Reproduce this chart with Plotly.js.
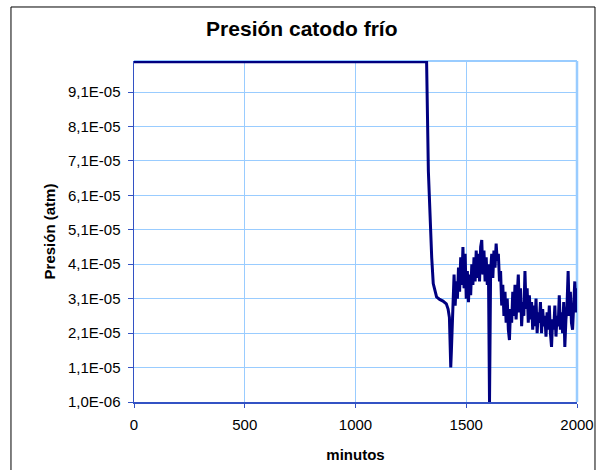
<!DOCTYPE html>
<html>
<head>
<meta charset="utf-8">
<script src="https://cdn.plot.ly/plotly-3.0.1.min.js"></script>
<style>
html,body{margin:0;padding:0;background:#fff;}
#chart{width:600px;height:470px;}
</style>
</head>
<body>
<div id="chart"></div>
<script>
// Time in minutes
var minutos = [0, 300, 600, 900, 1200, 1300, 1321, 1329, 1336, 1344, 1351, 1359, 1366, 1380, 1395, 1410, 1418, 1424, 1428, 1430, 1433, 1437, 1441,
  1445,1450,1455,1460,1465,1470,1475,1480,1485,1490,1495,1500,1505,1510,1515,1520,1525,1530,1535,1540,1545,1550,1555,1560,1565,1570,1575,1580,1585,1590,1595,1600,
  1605,1610,1615,1620,1625,1630,1635,1640,1645,1650,1655,1660,1665,1670,1675,1680,1685,1690,1695,1700,1705,1710,1715,1720,1725,1730,1735,1740,1745,1750,1755,1760,
  1765,1770,1775,1780,1785,1790,1795,1800,1805,1810,1815,1820,1825,1830,1835,1840,1845,1850,1855,1860,1865,1870,1875,1880,1885,1890,1895,1900,1905,1910,1915,1920,
  1925,1930,1935,1940,1945,1950,1955,1960,1965,1970,1975,1980,1985,1990,1995,2000];
// Pressure in units of 1E-05 atm
var presion_e5 = [9.98, 9.98, 9.98, 9.98, 9.98, 9.98, 9.98, 6.8, 5.4, 4.3, 3.54, 3.3, 3.15, 3.08, 3.03, 2.95, 2.8, 2.55, 1.8, 1.1, 1.6, 2.3, 3.5,
  3.8,2.9,3.6,3.1,4.0,3.3,4.3,3.5,4.6,3.4,4.4,3.1,3.9,3.0,3.8,3.2,4.1,3.5,4.3,3.6,4.5,3.7,4.4,3.6,4.6,4.8,3.8,4.5,3.6,4.3,3.5,4.1,
  0.1,3.9,4.4,3.7,4.5,4.0,4.7,4.2,4.4,3.6,3.9,2.9,3.5,2.6,3.3,2.4,3.1,2.2,1.9,2.8,2.4,3.3,2.6,3.5,2.5,3.2,3.8,2.7,3.4,2.3,3.0,2.6,
  3.9,2.8,3.4,2.4,3.2,2.5,3.0,2.2,2.9,2.3,3.1,2.1,2.7,2.4,3.0,2.1,2.8,2.3,2.6,2.0,2.7,2.2,2.9,2.1,1.7,2.5,2.2,2.9,2.0,2.6,2.3,3.2,
  2.2,2.7,2.1,3.0,1.7,2.5,2.9,3.9,2.6,3.3,2.4,2.2,3.1,3.6,2.7,3.4];

var yTickVals = [0.1, 1.1, 2.1, 3.1, 4.1, 5.1, 6.1, 7.1, 8.1, 9.1];
var yTickText = ["1,0E-06", "1,1E-05", "2,1E-05", "3,1E-05", "4,1E-05", "5,1E-05", "6,1E-05", "7,1E-05", "8,1E-05", "9,1E-05"];
var xTickVals = [0, 500, 1000, 1500, 2000];

var gridColor = "#99ccff";
var axisColor = "#3352c4";

var trace = {
  x: minutos,
  y: presion_e5,
  type: "scatter",
  mode: "lines",
  line: {color: "#000080", width: 3},
  hoverinfo: "skip"
};

var layout = {
  width: 600,
  height: 470,
  paper_bgcolor: "#ffffff",
  plot_bgcolor: "#ffffff",
  margin: {l: 134, r: 23, t: 61, b: 68},
  showlegend: false,
  font: {family: "Liberation Sans, Arial, sans-serif", size: 15, color: "#000"},
  title: {
    text: "<b>Presión catodo frío</b>",
    font: {family: "Liberation Sans, Arial, sans-serif", size: 21, color: "#000"},
    x: 0.503, xref: "container", xanchor: "center",
    y: 0.94, yref: "container", yanchor: "middle"
  },
  xaxis: {
    range: [0, 2000],
    tickvals: xTickVals,
    ticktext: xTickVals.map(String),
    showgrid: true, gridcolor: gridColor, gridwidth: 1,
    zeroline: false,
    showline: true, linecolor: axisColor, linewidth: 1.5,
    ticks: "outside", ticklen: 4, tickcolor: axisColor, tickwidth: 1,
    ticklabelstandoff: 4,
    tickfont: {size: 15, color: "#000"},
    title: {text: "<b>minutos</b>", font: {size: 15, color: "#000"}, standoff: 18}
  },
  yaxis: {
    range: [0.1, 10.0],
    tickvals: yTickVals,
    ticktext: yTickText,
    showgrid: true, gridcolor: gridColor, gridwidth: 1,
    zeroline: false,
    showline: true, linecolor: axisColor, linewidth: 1.5,
    ticks: "outside", ticklen: 5, tickcolor: axisColor, tickwidth: 1,
    ticklabelstandoff: 4,
    tickfont: {size: 15, color: "#000"},
    title: {text: "<b>Presión (atm)</b>", font: {size: 15, color: "#000"}, standoff: 8}
  },
  shapes: [
    {type: "line", xref: "paper", yref: "paper", x0: 0, x1: 1, y0: 1, y1: 1, line: {color: gridColor, width: 2}, layer: "below"},
    {type: "line", xref: "paper", yref: "paper", x0: 1, x1: 1, y0: 0, y1: 1, line: {color: gridColor, width: 2.5}, layer: "below"},
    {type: "rect", xref: "paper", yref: "paper", x0: -0.2777, x1: 1.0406, y0: -0.25, y1: 1.1584, line: {color: "#000", width: 1}, fillcolor: "rgba(0,0,0,0)", layer: "below"}
  ]
};

Plotly.newPlot("chart", [trace], layout, {displayModeBar: false, staticPlot: true});
</script>
</body>
</html>
